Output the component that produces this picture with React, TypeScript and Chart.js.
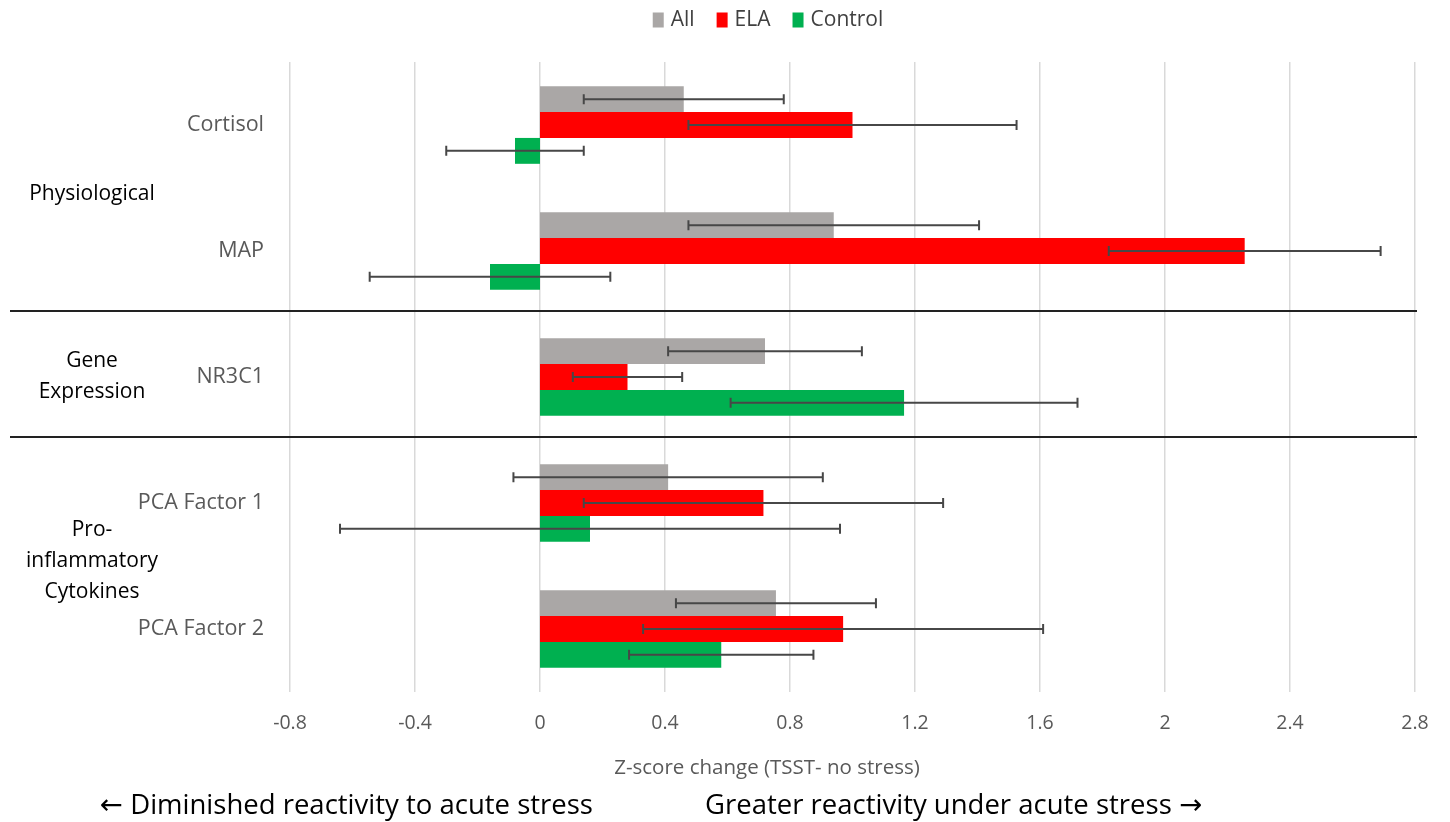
import React, { useEffect, useRef } from 'react';
import { Chart, registerables } from 'chart.js';

Chart.register(...registerables);

const categories = ['Cortisol', 'MAP', 'NR3C1', 'PCA Factor 1', 'PCA Factor 2'];

const seriesNames = ['All', 'ELA', 'Control'];
const seriesColors = ['#AAA7A6', '#FF0000', '#00B050'];

const allValues = [0.46, 0.94, 0.72, 0.41, 0.755];
const allErrors = [0.32, 0.465, 0.31, 0.495, 0.32];

const elaValues = [1.0, 2.255, 0.28, 0.715, 0.97];
const elaErrors = [0.525, 0.435, 0.175, 0.575, 0.64];

const controlValues = [-0.08, -0.16, 1.165, 0.16, 0.58];
const controlErrors = [0.22, 0.385, 0.555, 0.8, 0.295];

const xMin = -0.8;
const xMax = 2.8;
const xStep = 0.4;

const groupLabels = [['Physiological'], ['Gene', 'Expression'], ['Pro-', 'inflammatory', 'Cytokines']];
const groupRanges = [[0, 1], [2, 2], [3, 4]];

const axisTitle = 'Z-score change (TSST- no stress)';
const leftNote = '\u2190 Diminished reactivity to acute stress';
const rightNote = 'Greater reactivity under acute stress \u2192';

const FONT = '"Open Sans", "DejaVu Sans", sans-serif';

const seriesValues = [allValues, elaValues, controlValues];
const seriesErrors = [allErrors, elaErrors, controlErrors];

const overlayPlugin = {
  id: 'overlay',
  afterDatasetsDraw(chart: any) {
    const ctx = chart.ctx;
    const xs = chart.scales.x;
    chart.data.datasets.forEach((ds: any, di: number) => {
      const meta = chart.getDatasetMeta(di);
      const errs = seriesErrors[di];
      meta.data.forEach((bar: any, i: number) => {
        const v = ds.data[i];
        const e = errs[i];
        const x1 = xs.getPixelForValue(v - e);
        const x2 = xs.getPixelForValue(v + e);
        const y = bar.y;
        ctx.save();
        ctx.strokeStyle = '#474747';
        ctx.lineWidth = 2;
        ctx.beginPath();
        ctx.moveTo(x1, y);
        ctx.lineTo(x2, y);
        ctx.moveTo(x1, y - 5);
        ctx.lineTo(x1, y + 5);
        ctx.moveTo(x2, y - 5);
        ctx.lineTo(x2, y + 5);
        ctx.stroke();
        ctx.restore();
      });
    });
  },
  afterDraw(chart: any) {
    const ctx = chart.ctx;
    const ys = chart.scales.y;
    const area = chart.chartArea;
    ctx.save();

    // group separators
    ctx.strokeStyle = '#222222';
    ctx.lineWidth = 2;
    for (let g = 0; g < groupRanges.length - 1; g++) {
      const a = ys.getPixelForValue(groupRanges[g][1]);
      const b = ys.getPixelForValue(groupRanges[g + 1][0]);
      const y = (a + b) / 2 - 3;
      ctx.beginPath();
      ctx.moveTo(10, y);
      ctx.lineTo(area.right + 2, y);
      ctx.stroke();
    }

    // group labels
    ctx.fillStyle = '#000000';
    ctx.font = `21px ${FONT}`;
    ctx.textAlign = 'center';
    ctx.textBaseline = 'middle';
    const lh = 31;
    groupLabels.forEach((lines, g) => {
      const a = ys.getPixelForValue(groupRanges[g][0]);
      const b = ys.getPixelForValue(groupRanges[g][1]);
      const cy = (a + b) / 2;
      const start = cy - ((lines.length - 1) * lh) / 2;
      lines.forEach((t, k) => ctx.fillText(t, 92, start + k * lh - (g === 1 ? 0 : g === 0 ? -6 : 5)));
    });

    // legend
    ctx.font = `21px ${FONT}`;
    ctx.textAlign = 'left';
    const boxW = 11;
    const boxH = 15;
    const gapBox = 7;
    const gapItem = 22;
    const widths = seriesNames.map((n) => ctx.measureText(n).width);
    const total = widths.reduce((s, w) => s + boxW + gapBox + w, 0) + gapItem * (seriesNames.length - 1);
    let lx = 768 - total / 2;
    const ly = 20;
    seriesNames.forEach((n, i) => {
      ctx.fillStyle = seriesColors[i];
      ctx.fillRect(lx, ly - boxH / 2, boxW, boxH);
      ctx.fillStyle = '#404040';
      ctx.fillText(n, lx + boxW + gapBox, ly);
      lx += boxW + gapBox + widths[i] + gapItem;
    });

    // axis title
    ctx.font = `20.5px ${FONT}`;
    ctx.fillStyle = '#595959';
    ctx.textAlign = 'center';
    ctx.fillText(axisTitle, 767, 768);

    // notes
    ctx.font = `27.5px ${FONT}`;
    ctx.fillStyle = '#000000';
    ctx.textAlign = 'left';
    ctx.fillText(leftNote, 100, 806);
    ctx.fillText(rightNote, 705, 806);

    ctx.restore();
  },
};

export default function App() {
  const ref = useRef<HTMLCanvasElement | null>(null);

  useEffect(() => {
    if (!ref.current) return;
    const chart = new Chart(ref.current, {
      type: 'bar',
      data: {
        labels: categories,
        datasets: seriesNames.map((name, i) => ({
          label: name,
          data: seriesValues[i],
          backgroundColor: seriesColors[i],
          borderWidth: 0,
          barPercentage: 1,
          categoryPercentage: 0.616,
        })),
      },
      options: {
        indexAxis: 'y',
        responsive: false,
        animation: false,
        layout: { padding: { top: 62, left: 0, right: 35, bottom: 0 } },
        plugins: {
          legend: { display: false },
          tooltip: { enabled: false },
        },
        scales: {
          x: {
            type: 'linear',
            min: xMin,
            max: xMax,
            ticks: {
              stepSize: xStep,
              color: '#595959',
              font: { family: FONT, size: 19.5 },
              padding: 20,
              callback: (v: any) => String(Number(Number(v).toFixed(1))),
            },
            grid: { color: '#d9d9d9', lineWidth: 1.5, drawTicks: false },
            border: { display: false },
            afterFit: (s: any) => {
              s.height = 130;
            },
          },
          y: {
            type: 'category',
            ticks: {
              color: '#595959',
              font: { family: FONT, size: 21.5 },
              padding: 26,
            },
            grid: { display: false, drawTicks: false },
            border: { display: false },
            afterFit: (s: any) => {
              s.width = 290;
            },
          },
        },
      },
      plugins: [overlayPlugin],
    } as any);
    return () => chart.destroy();
  }, []);

  return (
    <div style={{ position: 'absolute', left: 0, top: 0, width: 1450, height: 822, background: '#fff' }}>
      <canvas ref={ref} width={1450} height={822} style={{ display: 'block' }} />
    </div>
  );
}
